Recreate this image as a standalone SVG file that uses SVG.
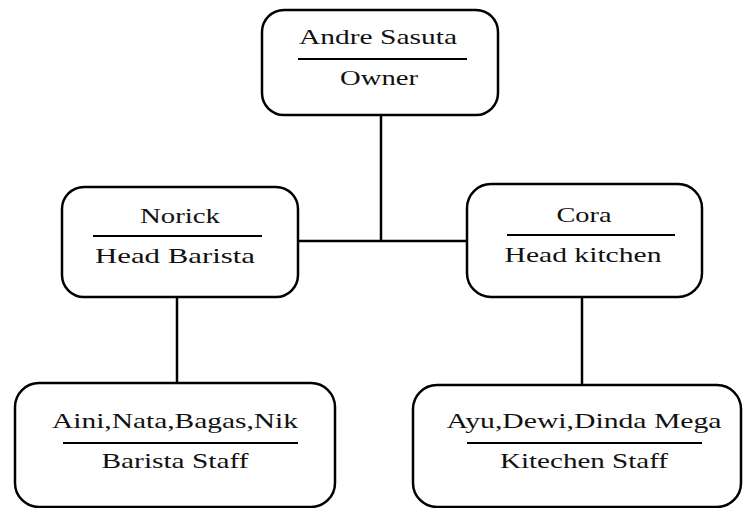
<svg xmlns="http://www.w3.org/2000/svg" width="743" height="508" viewBox="0 0 743 508">
<style>
.box{fill:#fff;stroke:#000;stroke-width:2.5}
.div{stroke:#000;stroke-width:2}
.t{font-family:"Liberation Serif","Times New Roman",serif;font-size:22px;fill:#111;text-anchor:middle}
.c{stroke:#000;stroke-width:2.5;fill:none}
</style>
<rect width="743" height="508" fill="#fff"/>
<g id="connectors">
<line class="c" x1="381" y1="115" x2="381" y2="241"/>
<line class="c" x1="298" y1="241" x2="467" y2="241"/>
<line class="c" x1="177" y1="297" x2="177" y2="383"/>
<line class="c" x1="582" y1="297" x2="582" y2="385"/>
</g>
<g id="owner">
<rect class="box" x="262" y="10" width="236" height="105" rx="22"/>
<text class="t" x="378" y="44" textLength="158" lengthAdjust="spacingAndGlyphs">Andre Sasuta</text>
<line class="div" x1="298" y1="59" x2="467" y2="59"/>
<text class="t" x="379" y="85" textLength="78" lengthAdjust="spacingAndGlyphs">Owner</text>
</g>
<g id="norick">
<rect class="box" x="62" y="187" width="236" height="110" rx="22"/>
<text class="t" x="180" y="223" textLength="80" lengthAdjust="spacingAndGlyphs">Norick</text>
<line class="div" x1="93" y1="236" x2="262" y2="236"/>
<text class="t" x="175" y="263" textLength="160" lengthAdjust="spacingAndGlyphs">Head Barista</text>
</g>
<g id="cora">
<rect class="box" x="467" y="184" width="235" height="113" rx="24"/>
<text class="t" x="584" y="222" textLength="55" lengthAdjust="spacingAndGlyphs">Cora</text>
<line class="div" x1="507" y1="235" x2="675" y2="235"/>
<text class="t" x="583" y="262" textLength="157" lengthAdjust="spacingAndGlyphs">Head kitchen</text>
</g>
<g id="barista-staff">
<rect class="box" x="15" y="383" width="320" height="124" rx="24"/>
<text class="t" x="175" y="428" textLength="246" lengthAdjust="spacingAndGlyphs">Aini,Nata,Bagas,Nik</text>
<line class="div" x1="63" y1="443" x2="298" y2="443"/>
<text class="t" x="175" y="468" textLength="147" lengthAdjust="spacingAndGlyphs">Barista Staff</text>
</g>
<g id="kitchen-staff">
<rect class="box" x="413" y="385" width="328" height="122" rx="24"/>
<text class="t" x="584" y="428" textLength="275" lengthAdjust="spacingAndGlyphs">Ayu,Dewi,Dinda Mega</text>
<line class="div" x1="467" y1="443" x2="702" y2="443"/>
<text class="t" x="584" y="468" textLength="168" lengthAdjust="spacingAndGlyphs">Kitechen Staff</text>
</g>
</svg>
